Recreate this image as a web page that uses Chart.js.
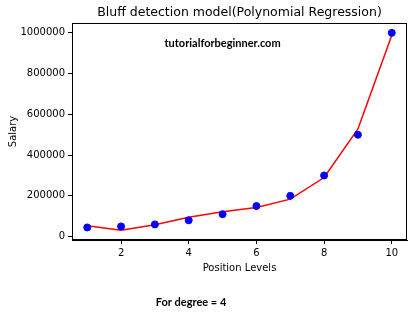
<!DOCTYPE html>
<html>
<head>
<meta charset="utf-8">
<script src="https://cdn.jsdelivr.net/npm/chart.js@4"></script>
<style>
  html, body { margin: 0; padding: 0; background: #fff; }
  #wrap { width: 414px; height: 324px; position: relative; }
</style>
</head>
<body>
<div id="wrap"><canvas id="chart"></canvas></div>
<script>
// data
const levels = [1, 2, 3, 4, 5, 6, 7, 8, 9, 10];
const salaries = [45000, 50000, 60000, 80000, 110000, 150000, 200000, 300000, 500000, 1000000];
const predicted = [53357, 31760, 58643, 94632, 121724, 143275, 184003, 289986, 528664, 988836];
const xTicks = [2, 4, 6, 8, 10];
const yTicks = [0, 200000, 400000, 600000, 800000, 1000000];

const titleText = "Bluff detection model(Polynomial Regression)";
const watermark = "tutorialforbeginner.com";
const footText = "For degree = 4";

// extra drawing: frame, title, text labels
const extras = {
    id: "extras",
    afterDraw(chart) {
        const ctx = chart.ctx;
        const a = chart.chartArea;
        ctx.save();
        ctx.strokeStyle = "#000";
        ctx.lineWidth = 1;
        ctx.strokeRect(a.left + 0.5, a.top + 0.5, a.right - a.left - 1, a.bottom - a.top - 1);

        ctx.fillStyle = "#000";
        ctx.textAlign = "center";
        ctx.textBaseline = "middle";
        ctx.font = "12.5px 'DejaVu Sans'";
        ctx.fillText(titleText, (a.left + a.right) / 2, 13);

        ctx.font = "bold 11px Lato";
        const sx = chart.scales.x, sy = chart.scales.y;
        ctx.fillText(watermark, sx.getPixelForValue(5), sy.getPixelForValue(950000));

        ctx.fillText(footText, 191, 302);
        ctx.restore();
    }
};

new Chart(document.getElementById("chart"), {
    type: "scatter",
    data: {
        datasets: [
            {
                type: "line",
                data: levels.map((x, i) => ({ x: x, y: predicted[i] })),
                borderColor: "#ff0000",
                borderWidth: 1.5,
                pointRadius: 0,
                fill: false,
                order: 2
            },
            {
                data: levels.map((x, i) => ({ x: x, y: salaries[i] })),
                backgroundColor: "#0000ff",
                borderColor: "#0000ff",
                pointRadius: 3.5,
                order: 1
            }
        ]
    },
    options: {
        responsive: true,
        maintainAspectRatio: false,
        animation: false,
        layout: { padding: { top: 23, right: 7, bottom: 46, left: 3 } },
        plugins: { legend: { display: false }, tooltip: { enabled: false } },
        scales: {
            x: {
                type: "linear",
                min: 0.55,
                max: 10.45,
                afterBuildTicks: s => { s.ticks = xTicks.map(v => ({ value: v })); },
                afterFit: s => { s.height = 38; },
                grid: { drawOnChartArea: false, drawTicks: true, tickLength: 4, color: "#000" },
                border: { color: "#000" },
                ticks: { color: "#000", font: { family: "DejaVu Sans", size: 10 }, padding: 3, maxRotation: 0 },
                title: { display: true, text: "Position Levels", color: "#000", font: { family: "DejaVu Sans", size: 10 }, padding: { top: 0 } }
            },
            y: {
                min: -16652,
                max: 1048412,
                afterBuildTicks: s => { s.ticks = yTicks.map(v => ({ value: v })); },
                afterFit: s => { s.width = 69; },
                grid: { drawOnChartArea: false, drawTicks: true, tickLength: 4, color: "#000" },
                border: { color: "#000" },
                ticks: { color: "#000", font: { family: "DejaVu Sans", size: 10 }, padding: 3, callback: v => String(v) },
                title: { display: true, text: "Salary", color: "#000", font: { family: "DejaVu Sans", size: 10 }, padding: { bottom: 0 } }
            }
        }
    },
    plugins: [extras]
});
</script>
</body>
</html>
